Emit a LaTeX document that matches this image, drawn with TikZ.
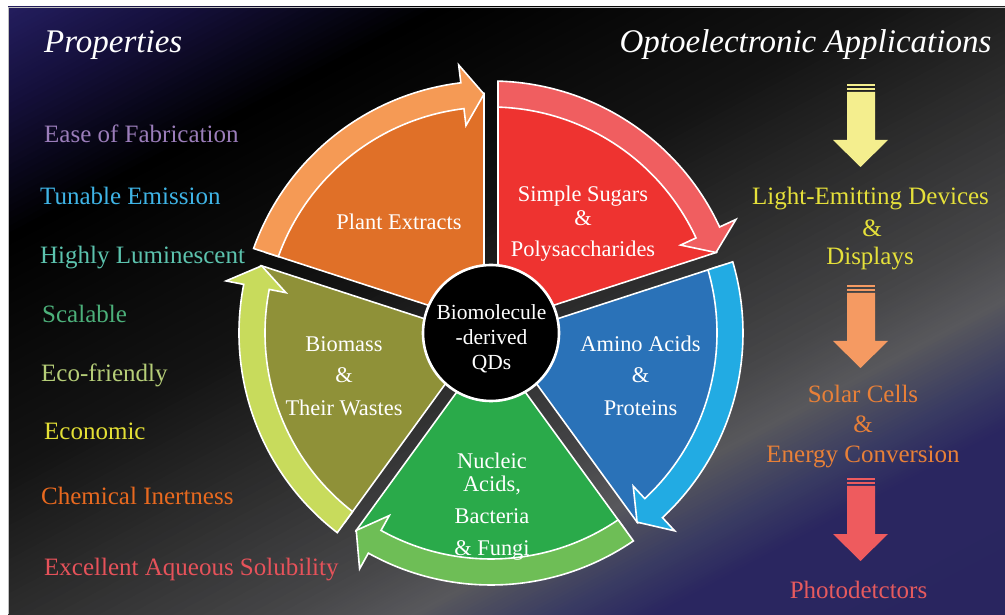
\documentclass[tikz,border=0pt]{standalone}
\usepackage{fontspec}
\setmainfont{Liberation Serif}
\usetikzlibrary{calc}
% background gradient stops
\definecolor{g0}{HTML}{251F62}
\definecolor{g1}{HTML}{15103C}
\definecolor{g2}{HTML}{000000}
\definecolor{g3}{HTML}{141414}
\definecolor{g4}{HTML}{2C2C2C}
\definecolor{g5}{HTML}{48484A}
\definecolor{g6}{HTML}{58585C}
\definecolor{g7}{HTML}{3A3C62}
\definecolor{g8}{HTML}{2A2660}
\definecolor{g9}{HTML}{28245E}
% wheel colours
\definecolor{orBody}{HTML}{E07028}
\definecolor{orBand}{HTML}{F59A55}
\definecolor{rdBody}{HTML}{EE3330}
\definecolor{rdBand}{HTML}{F05E60}
\definecolor{blBody}{HTML}{2A72B8}
\definecolor{blBand}{HTML}{22ABE3}
\definecolor{gnBody}{HTML}{2AAA4A}
\definecolor{gnBand}{HTML}{6EBE56}
\definecolor{olBody}{HTML}{8F9138}
\definecolor{olBand}{HTML}{C8DB5C}
% text colours
\definecolor{cEase}{HTML}{9B7DBA}
\definecolor{cTun}{HTML}{3FB4E6}
\definecolor{cHigh}{HTML}{5CC3AE}
\definecolor{cScal}{HTML}{4CB07A}
\definecolor{cEco}{HTML}{B6CE78}
\definecolor{cEcon}{HTML}{E4E035}
\definecolor{cChem}{HTML}{E8691F}
\definecolor{cExc}{HTML}{E6525A}
\definecolor{aYel}{HTML}{F4EE8E}
\definecolor{aOr}{HTML}{F59A62}
\definecolor{aRd}{HTML}{EE5B5E}
\definecolor{tYel}{HTML}{E5E03A}
\definecolor{tOr}{HTML}{E88038}
\definecolor{tRd}{HTML}{E65A5E}

\newcommand\gapw{7}
\newcommand\bodysec[3]{%
  \filldraw[fill=#1, draw=white, line width=1.6pt, line join=round]
    ($(C)+({#2+asin(\gapw/50)}:50)$) -- ($(C)+({#2+asin(\gapw/240)}:240)$)
    arc[start angle={#2+asin(\gapw/240)}, end angle={#3-asin(\gapw/240)}, radius=240]
    -- ($(C)+({#3-asin(\gapw/50)}:50)$) -- cycle;}
\newcommand\bandarr[3]{%
  \pgfmathsetmacro\bTip{#3+asin(\gapw/239)}%
  \pgfmathsetmacro\bHead{\bTip+5.2}%
  \pgfmathsetmacro\bSo{#2-asin(\gapw/252)}%
  \pgfmathsetmacro\bSi{#2-asin(\gapw/226)}%
  \filldraw[fill=#1, draw=white, line width=1.6pt, line join=miter]
    ($(C)+(\bSo:252)$) arc[start angle=\bSo, end angle=\bHead, radius=252]
    -- ($(C)+(\bHead:270)$) -- ($(C)+(\bTip:239)$) -- ($(C)+(\bHead:209)$)
    -- ($(C)+(\bHead:226)$) arc[start angle=\bHead, end angle=\bSi, radius=226] -- cycle;}
\newcommand\stripearrow[2]{% colour, top y
  \fill[#1] (847,#2-2.5) rectangle (875,#2);
  \fill[#1] (847,#2-6.5) rectangle (875,#2-4);
  \fill[#1] (847,#2-8) -- (875,#2-8) -- (875,#2-56) -- (888,#2-56)
     -- (860.5,#2-83) -- (833,#2-56) -- (847,#2-56) -- cycle;}

\begin{document}
\begin{tikzpicture}[x=1pt,y=1pt,
  prop/.style={anchor=base west, inner sep=0pt, font=\fontsize{25}{30}\selectfont},
  ttl/.style={anchor=base west, inner sep=0pt, text=white, font=\fontsize{33}{40}\selectfont\itshape},
  app/.style={anchor=base, inner sep=0pt, font=\fontsize{25}{30}\selectfont},
  sec/.style={anchor=base, inner sep=0pt, text=white, font=\fontsize{22.4}{27}\selectfont},
  ctrtxt/.style={anchor=base, inner sep=0pt, text=white, font=\fontsize{21.5}{26}\selectfont}]
\useasboundingbox (0,0) rectangle (1005,614);
\fill[white] (0,0) rectangle (1005,614);
% ---------- background ----------
\begin{scope}
  \clip (8,0) rectangle (1005,607);
  \begin{scope}[shift={(0,614)}, rotate=-62]
    \foreach \ta/\tb/\ca/\cb in {0/90/g0/g1, 90/210/g1/g2, 210/420/g2/g3,
        420/540/g3/g4, 540/680/g4/g5, 680/735/g5/g6, 735/800/g6/g7,
        800/850/g7/g8, 850/1200/g8/g9}{
      \foreach \i in {0,...,19}{
        \pgfmathsetmacro\bgT{\ta+(\tb-\ta)*\i/20}
        \pgfmathsetmacro\bgW{(\tb-\ta)/20+0.8}
        \pgfmathtruncatemacro\bgP{100-5*\i}
        \fill[fill=\ca!\bgP!\cb] (\bgT,-1500) rectangle ++(\bgW,3000);
      }
    }
  \end{scope}
\end{scope}
\draw[gray!50, line width=0.6pt] (8,0) -- (8,607) -- (1005,607);
% ---------- wheel ----------
\coordinate (C) at (491,281);
\bodysec{orBody}{90}{162}
\bodysec{rdBody}{18}{90}
\bodysec{blBody}{-54}{18}
\bodysec{gnBody}{-126}{-54}
\bodysec{olBody}{162}{234}
\bandarr{orBand}{162}{90}
\bandarr{rdBand}{90}{18}
\bandarr{blBand}{18}{-54}
\bandarr{gnBand}{-54}{-126}
\bandarr{olBand}{234}{162}
\node[circle, fill=black, draw=white, line width=2.6pt, minimum size=136pt, inner sep=0pt] (ctr) at (C) {};
% sector texts
\node[sec] (pe) at (399,384) {Plant Extracts};
\node[sec] (ss1) at (583,412) {Simple Sugars};
\node[sec] (ss2) at (583,388) {\&};
\node[sec] (ss3) at (583,357) {Polysaccharides};
\node[sec] (aa1) at (640.5,262) {Amino Acids};
\node[sec] (aa2) at (640.5,231) {\&};
\node[sec] (aa3) at (640.5,198) {Proteins};
\node[sec] (bm1) at (344,262) {Biomass};
\node[sec] (bm2) at (344,231) {\&};
\node[sec] (bm3) at (344,198) {Their Wastes};
\node[sec] (na1) at (492,146) {Nucleic};
\node[sec] (na2) at (492,123) {Acids,};
\node[sec] (na3) at (492,91) {Bacteria};
\node[sec] (na4) at (492,59) {\& Fungi};
\node[ctrtxt] (c1) at (491.5,294) {Biomolecule};
\node[ctrtxt] (c2) at (491.5,269) {-derived};
\node[ctrtxt] (c3) at (491.5,244) {QDs};
% ---------- titles ----------
\node[ttl] (tprop) at (44,561) {Properties};
\node[ttl, anchor=base] (tapp) at (805.5,561) {Optoelectronic Applications};
% ---------- properties ----------
\node[prop, text=cEase] (p1) at (44,471) {Ease of Fabrication};
\node[prop, text=cTun] (p2) at (40,409) {Tunable Emission};
\node[prop, text=cHigh] (p3) at (40,350) {Highly Luminescent};
\node[prop, text=cScal] (p4) at (42,291) {Scalable};
\node[prop, text=cEco] (p5) at (41,232) {Eco-friendly};
\node[prop, text=cEcon] (p6) at (44,174) {Economic};
\node[prop, text=cChem] (p7) at (41,110) {Chemical Inertness};
\node[prop, text=cExc] (p8) at (44,39) {Excellent Aqueous Solubility};
% ---------- applications ----------
\stripearrow{aYel}{530}
\stripearrow{aOr}{329}
\stripearrow{aRd}{136}
\node[app, text=tYel] (a1) at (870.5,409) {Light-Emitting Devices};
\node[app, text=tYel] (a2) at (872,377) {\&};
\node[app, text=tYel] (a3) at (870,349) {Displays};
\node[app, text=tOr] (b1) at (863,211) {Solar Cells};
\node[app, text=tOr] (b2) at (863,181) {\&};
\node[app, text=tOr] (b3) at (863,151) {Energy Conversion};
\node[app, text=tRd] (r1) at (858.5,16) {Photodetctors};
\end{tikzpicture}
\end{document}
